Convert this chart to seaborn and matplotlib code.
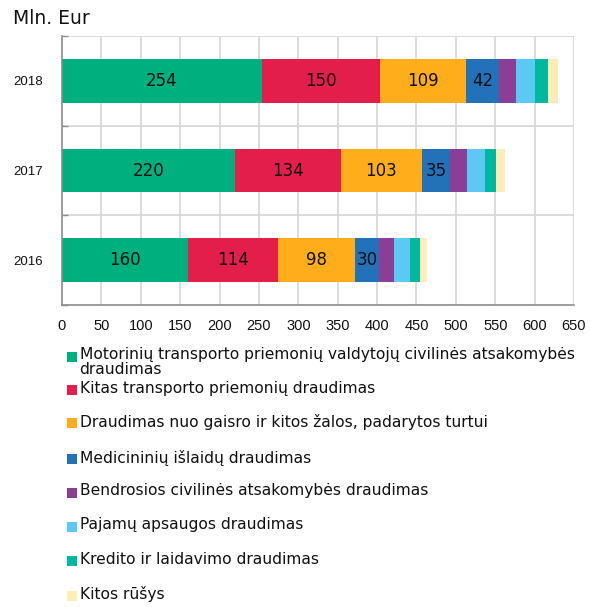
import matplotlib
matplotlib.use("Agg")
import matplotlib.pyplot as plt
from matplotlib.patches import Rectangle
from matplotlib.ticker import FixedLocator
import seaborn as sns
import pandas as pd
import numpy as np

years = ["2018", "2017", "2016"]
categories = [
    "Motorinių transporto priemonių valdytojų civilinės atsakomybės\ndraudimas",
    "Kitas transporto priemonių draudimas",
    "Draudimas nuo gaisro ir kitos žalos, padarytos turtui",
    "Medicininių išlaidų draudimas",
    "Bendrosios civilinės atsakomybės draudimas",
    "Pajamų apsaugos draudimas",
    "Kredito ir laidavimo draudimas",
    "Kitos rūšys",
]
motor = [254, 220, 160]
kitas_transport = [150, 134, 114]
turtas = [109, 103, 98]
medicinines = [42, 35, 30]
bendroji_ca = [22, 22, 20]
pajamu = [24, 23, 20]
kredito = [16, 14, 13]
kitos = [13, 12, 9]
series = [motor, kitas_transport, turtas, medicinines, bendroji_ca, pajamu, kredito, kitos]
labelled = 4  # first segments carry value labels

colors = ["#00AF7E", "#E31E4B", "#FFAD1B", "#2371B8", "#8C3E96", "#5BC9F4", "#00B8A0", "#FFEDB8"]
x_ticks = list(range(0, 651, 50))

sns.set_theme(style="white")
plt.rcParams["font.family"] = ["DejaVu Sans"]

fig = plt.figure(figsize=(5.9, 6.07), dpi=100)
ax = fig.add_axes([62 / 590, 1 - 305 / 607, (574 - 62) / 590, (305 - 36) / 607])

vals = np.array(series, dtype=float)
cum = np.cumsum(vals, axis=0)
df = pd.DataFrame({"year": years})

# stacked bars: draw cumulative totals from the outermost segment inwards
for i in range(len(series) - 1, -1, -1):
    d = df.copy()
    d["value"] = cum[i]
    sns.barplot(data=d, y="year", x="value", order=years, orient="h",
                color=colors[i], saturation=1, width=0.49, linewidth=0, ax=ax)

# value labels in the first segments
for i in range(labelled):
    starts = cum[i] - vals[i]
    for j, y in enumerate(years):
        ax.text(starts[j] + vals[i][j] / 2, j, f"{int(vals[i][j])}",
                ha="center", va="center", fontsize=12, color="#111111",
                family="DejaVu Sans")

ax.set_xlim(0, 650)
ax.set_ylim(2.5, -0.5)
ax.set_xlabel("")
ax.set_ylabel("")
ax.xaxis.set_major_locator(FixedLocator(x_ticks))
ax.set_xticklabels([str(t) for t in x_ticks])
ax.grid(False)
for t in x_ticks[1:]:
    ax.axvline(t, color="#D9D9D9", lw=1.3, zorder=0)
for b in [-0.5, 0.5, 1.5]:
    ax.axhline(b, color="#D9D9D9", lw=1.3, zorder=0)
ax.yaxis.set_minor_locator(FixedLocator([-0.5, 0.5, 1.5, 2.5]))

for s in ["top", "right"]:
    ax.spines[s].set_visible(False)
for s in ["left", "bottom"]:
    ax.spines[s].set_color("#8C8C8C")
    ax.spines[s].set_linewidth(1.2)
ax.tick_params(axis="x", which="major", length=4, width=1, color="#8C8C8C",
               labelsize=10.5, pad=10, direction="in")
ax.tick_params(axis="y", which="major", length=0, labelsize=9.5, pad=13.5)
ax.tick_params(axis="y", which="minor", length=4, width=1, color="#8C8C8C",
               direction="in", left=True)
for lab in ax.get_xticklabels() + ax.get_yticklabels():
    lab.set_family("Liberation Sans")
    lab.set_color("#111111")

fig.text(13 / 590, 1 - 19 / 607, "Mln. Eur", fontsize=13.5, va="center", ha="left",
         color="#111111")

# legend
entry_y = [357, 390, 423, 459, 493, 527, 561, 596]
for i, (name, yy) in enumerate(zip(categories, entry_y)):
    fig.patches.append(Rectangle((66.5 / 590, 1 - (yy + 5) / 607), 10 / 590, 10 / 607,
                                 transform=fig.transFigure, color=colors[i], lw=0))
    fig.text(79.5 / 590, 1 - (yy - 9.5) / 607, name, fontsize=11.2, va="top", ha="left",
             color="#111111", linespacing=1.0)

fig.savefig("out.png", dpi=100)
